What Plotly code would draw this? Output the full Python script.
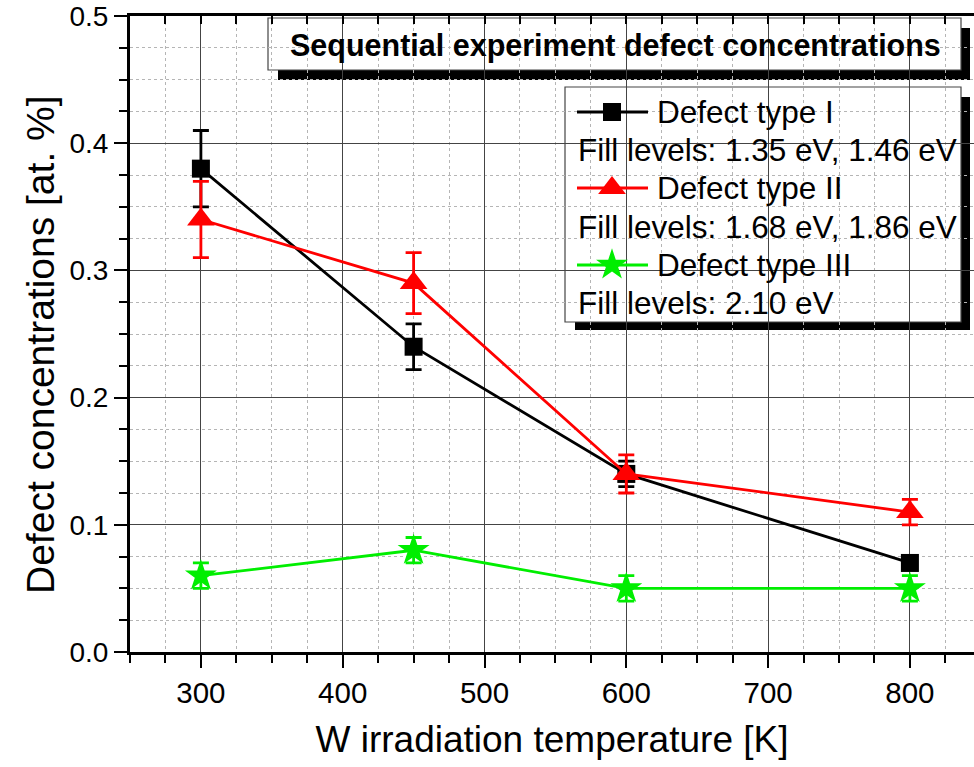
import plotly.graph_objects as go

# ---------------- data ----------------
temps = [300, 450, 600, 800]

type1_vals = [0.38, 0.24, 0.14, 0.07]
type1_err = [0.03, 0.018, 0.01, 0.005]

type2_vals = [0.34, 0.29, 0.14, 0.11]
type2_err = [0.03, 0.024, 0.015, 0.01]

type3_vals = [0.06, 0.08, 0.05, 0.05]
type3_err = [0.01, 0.01, 0.01, 0.01]

x_ticks = [300, 400, 500, 600, 700, 800]
y_ticks = [0.0, 0.1, 0.2, 0.3, 0.4, 0.5]

series_names = ["Defect type I", "Defect type II", "Defect type III"]
fill_levels = ["Fill levels: 1.35 eV, 1.46 eV",
               "Fill levels: 1.68 eV, 1.86 eV",
               "Fill levels: 2.10 eV"]
chart_title = "Sequential experiment defect concentrations"
x_title = "W irradiation temperature [K]"
y_title = "Defect concentrations [at. %]"

# ---------------- layout geometry ----------------
W, H = 974, 767
ML, MR, MT, MB = 130, 0, 16, 115
PW, PH = W - ML - MR, H - MT - MB

def px(x):
    return (x - ML) / PW

def py(y):
    return (H - MB - y) / PH

FONT = "Liberation Sans, Arial, sans-serif"
colors = ["#000000", "#ff0000", "#00ee00"]
symbols = ["square", "triangle-up", "star"]
msizes = [18, 24, 24]

fig = go.Figure()

all_vals = [type1_vals, type2_vals, type3_vals]
all_err = [type1_err, type2_err, type3_err]
for name, vals, err, c, s, ms in zip(series_names, all_vals, all_err, colors, symbols, msizes):
    fig.add_trace(go.Scatter(
        x=temps, y=vals, name=name, mode="lines+markers",
        line=dict(color=c, width=2.8),
        marker=dict(symbol=s, size=ms, color=c, line=dict(width=0)),
        error_y=dict(type="data", array=err, visible=True, color=c, thickness=2.8, width=8),
        showlegend=False, cliponaxis=False,
    ))

# invisible trace to activate top axis (inward ticks)
fig.add_trace(go.Scatter(x=temps, y=type1_vals, xaxis="x2", mode="markers",
                         marker=dict(opacity=0), showlegend=False, hoverinfo="skip"))

# ---------------- custom legend (samples on overlay axes) ----------------
row_y = [112, 150, 188, 227, 265, 303]
for i, (name, c, s, ms) in enumerate(zip(series_names, colors, symbols, msizes)):
    yy = row_y[2 * i]
    fig.add_trace(go.Scatter(
        x=[px(577), px(648)], y=[py(yy), py(yy)], xaxis="x3", yaxis="y3",
        mode="lines", line=dict(color=c, width=2.8), showlegend=False, hoverinfo="skip",
        cliponaxis=False))
    fig.add_trace(go.Scatter(
        x=[px(612)], y=[py(yy)], xaxis="x3", yaxis="y3",
        mode="markers", marker=dict(symbol=s, size=ms, color=c, line=dict(width=0)),
        showlegend=False, hoverinfo="skip", cliponaxis=False))

shapes = []
# title box shadow + box
shapes.append(dict(type="rect", xref="paper", yref="paper", layer="between",
                   x0=px(278), x1=px(970), y0=py(80), y1=py(28),
                   fillcolor="black", line=dict(width=0)))
shapes.append(dict(type="rect", xref="paper", yref="paper", layer="between",
                   x0=px(268), x1=px(961), y0=py(70), y1=py(18),
                   fillcolor="white", line=dict(color="#444", width=1.2)))
# legend box shadow + box
shapes.append(dict(type="rect", xref="paper", yref="paper", layer="between",
                   x0=px(575), x1=px(970), y0=py(330), y1=py(97),
                   fillcolor="black", line=dict(width=0)))
shapes.append(dict(type="rect", xref="paper", yref="paper", layer="between",
                   x0=px(565), x1=px(961), y0=py(322), y1=py(87),
                   fillcolor="white", line=dict(color="#444", width=1.2)))

annotations = []
annotations.append(dict(text="<b>" + chart_title + "</b>", xref="paper", yref="paper",
                        x=px(615), y=py(45), xanchor="center", yanchor="middle",
                        showarrow=False, font=dict(family=FONT, size=30.5, color="black")))
for i in range(3):
    annotations.append(dict(text=series_names[i], xref="paper", yref="paper",
                            x=px(655), y=py(row_y[2 * i]), xanchor="left", yanchor="middle",
                            showarrow=False, font=dict(family=FONT, size=31.5, color="black")))
    annotations.append(dict(text=fill_levels[i], xref="paper", yref="paper",
                            x=px(576), y=py(row_y[2 * i + 1]), xanchor="left", yanchor="middle",
                            showarrow=False, font=dict(family=FONT, size=31.5, color="black")))
# y axis title
annotations.append(dict(text=y_title, xref="paper", yref="paper",
                        x=px(40), y=py(345), xanchor="center", yanchor="middle",
                        textangle=-90, showarrow=False,
                        font=dict(family=FONT, size=39, color="black")))

xrange_ = [250, 845.2]
axis_common = dict(showline=True, linecolor="black", linewidth=3,
                   gridcolor="#444444", gridwidth=1, zeroline=False)

fig.update_layout(
    width=W, height=H,
    margin=dict(l=ML, r=MR, t=MT, b=MB, pad=0),
    paper_bgcolor="white", plot_bgcolor="white",
    font=dict(family=FONT, color="black"),
    showlegend=False,
    xaxis=dict(range=xrange_, tickvals=x_ticks,
               ticks="outside", ticklen=13, tickwidth=2, tickcolor="black",
               mirror=True,
               tickfont=dict(size=29.5, family=FONT),
               title=dict(text=x_title, font=dict(size=37, family=FONT), standoff=18),
               minor=dict(dtick=25, ticks="outside", ticklen=8, tickwidth=2, tickcolor="black",
                          showgrid=True, gridcolor="#b5b5b5", griddash="dot", gridwidth=1),
               **axis_common),
    xaxis2=dict(range=xrange_, overlaying="x", side="top", showticklabels=False,
                showgrid=False, zeroline=False, showline=False,
                tickvals=x_ticks,
                ticks="inside", ticklen=8, tickwidth=2, tickcolor="black",
                minor=dict(dtick=25, ticks="inside", ticklen=8, tickwidth=2, tickcolor="black",
                           showgrid=False)),
    yaxis=dict(range=[0, 0.5], tickvals=y_ticks, tickformat=".1f",
               ticks="outside", ticklen=13, tickwidth=2, tickcolor="black",
               tickfont=dict(size=28, family=FONT),
               minor=dict(dtick=0.025, ticks="outside", ticklen=8, tickwidth=2, tickcolor="black",
                          showgrid=True, gridcolor="#b5b5b5", griddash="dot", gridwidth=1),
               **axis_common),
    xaxis3=dict(range=[0, 1], domain=[0, 1], visible=False, overlaying="x"),
    yaxis3=dict(range=[0, 1], domain=[0, 1], visible=False, overlaying="y", anchor="x3"),
    shapes=shapes,
    annotations=annotations,
)

fig.write_html("out.html")
